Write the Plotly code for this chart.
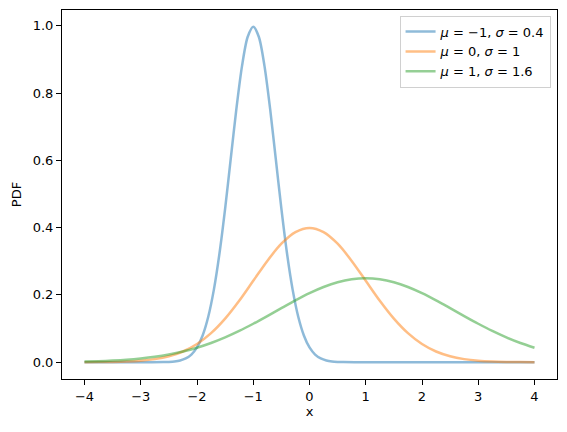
import plotly.graph_objects as go

# mu=-1, sigma=0.4
x_a = [-4.0, -3.5, -3.0, -2.8, -2.6, -2.5, -2.4, -2.3, -2.2, -2.1, -2.0, -1.9, -1.8, -1.7,
       -1.6, -1.5, -1.4, -1.3, -1.2, -1.1, -1.0, -0.9, -0.8, -0.7, -0.6, -0.5, -0.4, -0.3,
       -0.2, -0.1, 0.0, 0.1, 0.2, 0.3, 0.4, 0.5, 0.6, 0.8, 1.0, 2.0, 3.0, 4.0]
y_a = [0.0, 0.0, 0.0, 0.0, 0.0003, 0.0009, 0.0022, 0.0051, 0.0111, 0.0227, 0.0438, 0.0794,
       0.1350, 0.2157, 0.3238, 0.4566, 0.6049, 0.7529, 0.8802, 0.9667, 0.9974, 0.9667,
       0.8802, 0.7529, 0.6049, 0.4566, 0.3238, 0.2157, 0.1350, 0.0794, 0.0438, 0.0227,
       0.0111, 0.0051, 0.0022, 0.0009, 0.0003, 0.0, 0.0, 0.0, 0.0, 0.0]

# mu=0, sigma=1 and mu=1, sigma=1.6 share this grid
x_grid = [-4.0, -3.75, -3.5, -3.25, -3.0, -2.75, -2.5, -2.25, -2.0, -1.75, -1.5, -1.25, -1.0,
          -0.75, -0.5, -0.25, 0.0, 0.25, 0.5, 0.75, 1.0, 1.25, 1.5, 1.75, 2.0, 2.25, 2.5,
          2.75, 3.0, 3.25, 3.5, 3.75, 4.0]
y_b = [0.0001, 0.0004, 0.0009, 0.0020, 0.0044, 0.0091, 0.0175, 0.0317, 0.0540, 0.0863,
       0.1295, 0.1826, 0.2420, 0.3011, 0.3521, 0.3867, 0.3989, 0.3867, 0.3521, 0.3011,
       0.2420, 0.1826, 0.1295, 0.0863, 0.0540, 0.0317, 0.0175, 0.0091, 0.0044, 0.0020,
       0.0009, 0.0004, 0.0001]
y_c = [0.0019, 0.0030, 0.0048, 0.0073, 0.0110, 0.0160, 0.0228, 0.0317, 0.0430, 0.0569,
       0.0736, 0.0928, 0.1142, 0.1371, 0.1607, 0.1838, 0.2051, 0.2234, 0.2375, 0.2463,
       0.2493, 0.2463, 0.2375, 0.2234, 0.2051, 0.1838, 0.1607, 0.1371, 0.1142, 0.0928,
       0.0736, 0.0569, 0.0430]

labels = ["<i>μ</i> = −1, <i>σ</i> = 0.4", "<i>μ</i> = 0, <i>σ</i> = 1", "<i>μ</i> = 1, <i>σ</i> = 1.6"]
colors = ["#1f77b4", "#ff7f0e", "#2ca02c"]
x_ticks = [-4, -3, -2, -1, 0, 1, 2, 3, 4]
y_ticks = [0.0, 0.2, 0.4, 0.6, 0.8, 1.0]

fig = go.Figure()
for xs, ys, name, c in zip([x_a, x_grid, x_grid], [y_a, y_b, y_c], labels, colors):
    fig.add_trace(go.Scatter(x=xs, y=ys, mode="lines", name=name, opacity=0.5,
                             line=dict(color=c, width=2.5, shape="spline", smoothing=0.8)))

axis_style = dict(showline=True, linecolor="black", linewidth=1, mirror=True, ticks="outside",
                  ticklen=5, tickcolor="black", showgrid=False, zeroline=False, automargin=False,
                  tickfont=dict(size=13, color="black"))
fig.update_xaxes(range=[-4.4, 4.4], tickvals=x_ticks,
                 title=dict(text="x", font=dict(size=13), standoff=4), **axis_style)
fig.update_yaxes(range=[-0.05, 1.047], tickvals=y_ticks, tickformat=".1f",
                 title=dict(text="PDF", font=dict(size=13), standoff=8), **axis_style)

fig.update_layout(
    width=567, height=432,
    margin=dict(l=61.5, r=9.5, t=9.5, b=53),
    plot_bgcolor="white", paper_bgcolor="white",
    font=dict(family="DejaVu Sans", size=13, color="black"),
    legend=dict(x=0.987, y=0.985, xanchor="right", yanchor="top", bordercolor="#d0d0d0",
                borderwidth=1, bgcolor="rgba(255,255,255,0.8)", font=dict(size=13),
                tracegroupgap=0, itemwidth=30),
)

# drop the browser's default 8px body margin so the figure sits at the page origin
fig.write_html("out.html", config={"displayModeBar": False},
               post_script="document.body.style.margin='0';")
